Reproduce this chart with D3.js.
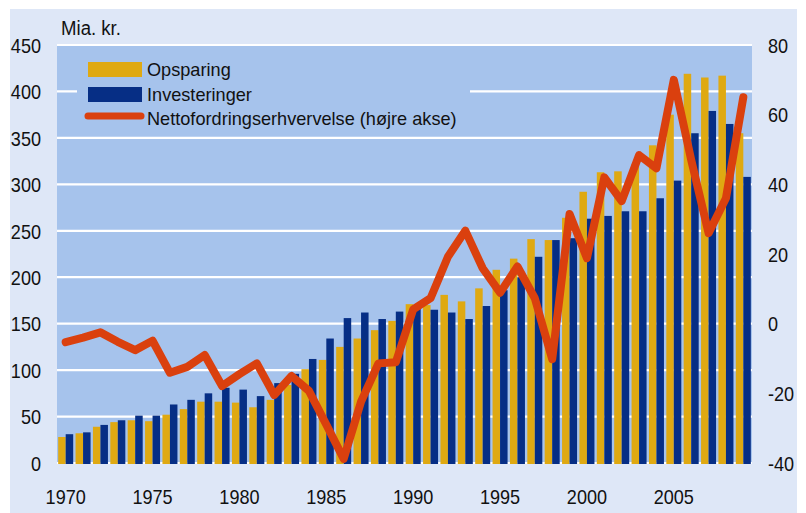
<!DOCTYPE html>
<html><head><meta charset="utf-8">
<script src="https://cdn.jsdelivr.net/npm/d3@7"></script>
<style>
html,body{margin:0;padding:0;background:#fff;}
svg text{font-family:"Liberation Sans",Arial,sans-serif;fill:#111;}
</style></head>
<body>
<svg id="chart" width="806" height="513"></svg>
<script>
const years = [1970,1971,1972,1973,1974,1975,1976,1977,1978,1979,1980,1981,1982,1983,1984,1985,1986,1987,1988,1989,1990,1991,1992,1993,1994,1995,1996,1997,1998,1999,2000,2001,2002,2003,2004,2005,2006,2007,2008,2009];
const opsparing = [28,32,39,44,46,45,52,58,66,66,65,60,68,84,101,111,125,134,143,153,171,170,181,174,188,208,220,241,240,264,292,313,314,322,342,375,419,415,417,355];
const investeringer = [31,33,41,46,51,51,63,68,75,81,79,72,86,96,112,134,156,162,155,163,166,165,162,155,169,186,200,222,240,242,263,266,271,271,285,304,355,379,365,308];
const netto = [-5.3,-4.0,-2.5,-5.2,-7.6,-4.9,-14.1,-12.4,-9.0,-17.9,-14.5,-11.4,-20.5,-15.0,-19.3,-29.0,-38.8,-22.4,-11.4,-11.1,4.1,7.3,19.2,26.7,15.9,8.9,16.4,7.3,-10.2,31.5,18.8,42.0,35.2,48.4,44.6,70.0,47.0,26.0,36.0,65.0];
const leftTicks = [0,50,100,150,200,250,300,350,400,450];
const rightTicks = [-40,-20,0,20,40,60,80];
const xLabels = [1970,1975,1980,1985,1990,1995,2000,2005];
const seriesNames = ["Opsparing","Investeringer","Nettofordringserhvervelse (højre akse)"];
const unitLabel = "Mia. kr.";

const C = {outer:"#dee7f7", plot:"#a6c3ec", grid:"#ffffff", yellow:"#dfa912", blue:"#062e85", red:"#da400e"};
const L = {left:57, right:752, top:45, bottom:463};

const svg = d3.select("#chart");
svg.append("rect").attr("x",10).attr("y",9).attr("width",787).attr("height",504).attr("fill",C.outer);
svg.append("rect").attr("x",L.left).attr("y",L.top).attr("width",L.right-L.left).attr("height",L.bottom-L.top).attr("fill",C.plot);

const x = d3.scaleBand().domain(years).range([L.left,L.right]).paddingInner(0).paddingOuter(0);
const x1 = d3.scaleBand().domain(["o","i"]).range([0,x.bandwidth()]).paddingInner(0).paddingOuter(0.158);
const yL = d3.scaleLinear().domain([0,450]).range([L.bottom,L.top]);
const yR = d3.scaleLinear().domain([-40,80]).range([L.bottom,L.top]);

// gridlines
svg.append("g").selectAll("line").data(leftTicks).join("line")
  .attr("x1",L.left).attr("x2",L.right)
  .attr("y1",d=>yL(d)).attr("y2",d=>yL(d))
  .attr("stroke",C.grid).attr("stroke-width",2.2);

// legend box (hides gridlines)
svg.append("rect").attr("x",77).attr("y",48).attr("width",393).attr("height",86).attr("fill",C.plot);

// bars
const gb = svg.append("g");
gb.selectAll("rect.o").data(years).join("rect").attr("class","o")
  .attr("x",(d)=>x(d)+x1("o")).attr("width",x1.bandwidth())
  .attr("y",(d,i)=>yL(opsparing[i])).attr("height",(d,i)=>yL(0)-yL(opsparing[i])+1)
  .attr("fill",C.yellow);
gb.selectAll("rect.i").data(years).join("rect").attr("class","i")
  .attr("x",(d)=>x(d)+x1("i")).attr("width",x1.bandwidth())
  .attr("y",(d,i)=>yL(investeringer[i])).attr("height",(d,i)=>yL(0)-yL(investeringer[i])+1)
  .attr("fill",C.blue);

// line
const line = d3.line().x((d,i)=>x(years[i])+x.bandwidth()/2).y(d=>yR(d));
svg.append("path").datum(netto).attr("d",line).attr("fill","none")
  .attr("stroke",C.red).attr("stroke-width",8).attr("stroke-linejoin","round").attr("stroke-linecap","round");

function condense(sel, f){
  sel.each(function(){
    const w = this.getComputedTextLength();
    d3.select(this).attr("textLength", w*f).attr("lengthAdjust","spacingAndGlyphs");
  });
}

// left axis labels
const tl = svg.append("g").selectAll("text").data(leftTicks).join("text")
  .attr("x",41).attr("y",d=>yL(d)+7.8).attr("text-anchor","end")
  .attr("font-size",21).text(d=>d);
condense(tl,0.86);

// right axis labels
const tr = svg.append("g").selectAll("text").data(rightTicks).join("text")
  .attr("x",768).attr("y",d=>yR(d)+7.8).attr("text-anchor","start")
  .attr("font-size",21).text(d=>d);
condense(tr,0.86);

// x labels
const tx = svg.append("g").selectAll("text").data(xLabels).join("text")
  .attr("x",d=>x(d)+x.bandwidth()/2).attr("y",504).attr("text-anchor","middle")
  .attr("font-size",21).text(d=>d);
condense(tx,0.86);

// unit label
const ul = svg.append("text").attr("x",61).attr("y",35).attr("font-size",20).text(unitLabel);
condense(ul,0.93);

// legend
const lg = svg.append("g");
lg.append("rect").attr("x",88).attr("y",62).attr("width",54).attr("height",15).attr("fill",C.yellow);
lg.append("rect").attr("x",88).attr("y",87).attr("width",54).attr("height",15).attr("fill",C.blue);
lg.append("line").attr("x1",88).attr("x2",141).attr("y1",116).attr("y2",116)
  .attr("stroke",C.red).attr("stroke-width",7).attr("stroke-linecap","round");
const lt = lg.selectAll("text").data(seriesNames).join("text")
  .attr("x",147).attr("y",(d,i)=>76+i*24.5).attr("font-size",19).text(d=>d);
condense(lt,0.955);
</script>
</body></html>
